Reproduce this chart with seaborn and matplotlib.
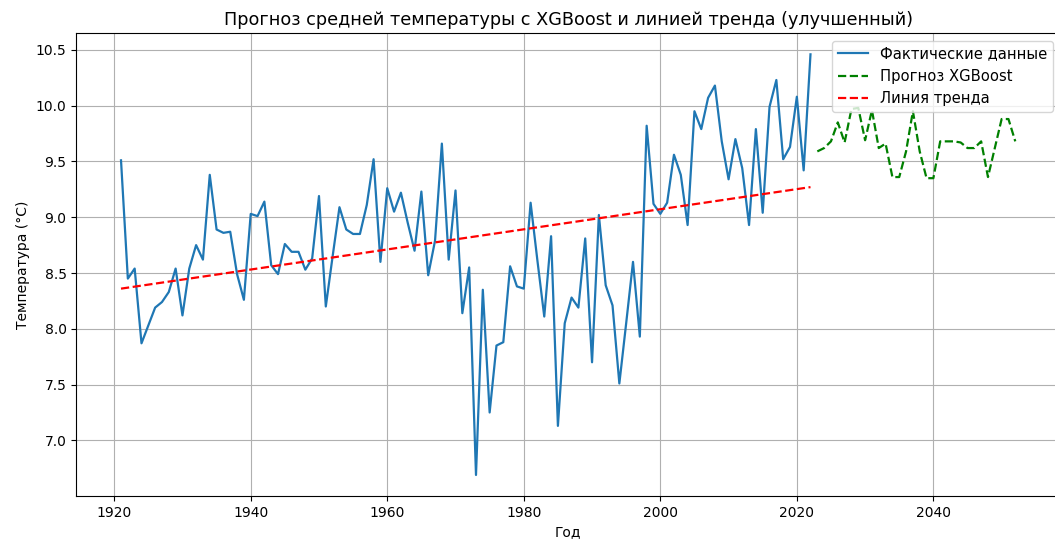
import numpy as np
import pandas as pd
import matplotlib
matplotlib.use("Agg")
import matplotlib.pyplot as plt
import seaborn as sns

# Actual data 1921-2022
actual_years = list(range(1921, 2023))
actual_temps = [
    9.51, 8.45, 8.54, 7.87, 8.03, 8.19, 8.24, 8.33, 8.54, 8.12,   # 1921-1930
    8.54, 8.75, 8.62, 9.38, 8.89, 8.86, 8.87, 8.49, 8.26, 9.03,   # 1931-1940
    9.01, 9.14, 8.57, 8.49, 8.76, 8.69, 8.69, 8.53, 8.63, 9.19,   # 1941-1950
    8.20, 8.65, 9.09, 8.89, 8.85, 8.85, 9.11, 9.52, 8.60, 9.26,   # 1951-1960
    9.05, 9.22, 8.95, 8.70, 9.23, 8.48, 8.79, 9.66, 8.62, 9.24,   # 1961-1970
    8.14, 8.55, 6.69, 8.35, 7.25, 7.85, 7.88, 8.56, 8.38, 8.36,   # 1971-1980
    9.13, 8.61, 8.11, 8.83, 7.13, 8.05, 8.28, 8.19, 8.81, 7.70,   # 1981-1990
    9.02, 8.39, 8.21, 7.51, 8.05, 8.60, 7.93, 9.82, 9.12, 9.03,   # 1991-2000
    9.13, 9.56, 9.38, 8.93, 9.95, 9.79, 10.07, 10.18, 9.68, 9.34, # 2001-2010
    9.70, 9.44, 8.93, 9.79, 9.04, 9.99, 10.23, 9.52, 9.63, 10.08, # 2011-2020
    9.42, 10.46,                                                   # 2021-2022
]

# XGBoost forecast 2023-2052
forecast_years = list(range(2023, 2053))
forecast_temps = [
    9.59, 9.62, 9.68, 9.85, 9.67, 9.97, 9.98, 9.69, 9.96, 9.62,
    9.66, 9.36, 9.36, 9.59, 9.95, 9.59, 9.35, 9.35, 9.68, 9.68,
    9.68, 9.67, 9.62, 9.62, 9.68, 9.36, 9.62, 9.88, 9.88, 9.68,
]

# Trend line endpoints
trend_years = [1921, 2022]
trend_temps = [8.36, 9.27]

title = "Прогноз средней температуры с XGBoost и линией тренда (улучшенный)"
xlabel = "Год"
ylabel = "Температура (°C)"
labels = ["Фактические данные", "Прогноз XGBoost", "Линия тренда"]

df_actual = pd.DataFrame({"year": actual_years, "temp": actual_temps})
df_fc = pd.DataFrame({"year": forecast_years, "temp": forecast_temps})
df_trend = pd.DataFrame({"year": trend_years, "temp": trend_temps})

fig = plt.figure(figsize=(10.55, 5.43), dpi=100)
ax = fig.add_axes([76.3 / 1055, 1 - 496 / 543, (1060 - 76.3) / 1055, (496 - 33.3) / 543])

sns.lineplot(data=df_actual, x="year", y="temp", ax=ax, color="#1f77b4",
             linewidth=1.6, label=labels[0])
sns.lineplot(data=df_fc, x="year", y="temp", ax=ax, color="green",
             linestyle="--", linewidth=1.6, label=labels[1])
sns.lineplot(data=df_trend, x="year", y="temp", ax=ax, color="red",
             linestyle="--", linewidth=1.6, label=labels[2])

ax.set_title(title, fontsize=12.7)
ax.set_xlabel(xlabel, fontsize=10)
ax.set_ylabel(ylabel, fontsize=10)
ax.set_xticks([1920, 1940, 1960, 1980, 2000, 2020, 2040])
ax.set_yticks([7.0, 7.5, 8.0, 8.5, 9.0, 9.5, 10.0, 10.5])
ax.grid(True)
ax.legend(loc="upper right", fontsize=10.6)

fig.savefig("out.png", dpi=100)
